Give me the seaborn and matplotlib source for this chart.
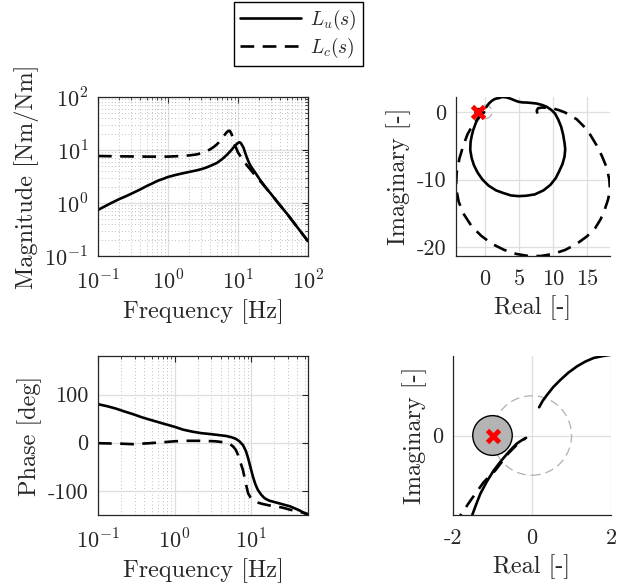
import seaborn as sns
import matplotlib.pyplot as plt
from matplotlib.patches import Circle
from matplotlib.lines import Line2D

# ---- Bode magnitude ----
mag_freq_u = [0.1, 0.12, 0.15, 0.2, 0.25, 0.3, 0.4, 0.5, 0.6, 0.7, 0.85, 1.0, 1.25, 1.5, 2.0, 2.5,
              3.0, 3.5, 4.0, 5.0, 6.0, 7.0, 8.0, 9.0, 10.0, 10.5, 11.0, 12.0, 13.0, 14.0, 15.0, 17.5,
              20.0, 25.0, 30.0, 40.0, 50.0, 65.0, 80.0, 100.0]
mag_u = [0.74, 0.84, 0.98, 1.18, 1.34, 1.5, 1.8, 2.1, 2.35, 2.6, 2.85, 3.1, 3.35, 3.55, 3.85, 4.1,
         4.35, 4.65, 5.0, 5.7, 6.8, 8.2, 9.9, 12.0, 13.6, 14.0, 13.5, 11.0, 8.0, 6.2, 5.1, 3.8,
         2.9, 1.95, 1.45, 0.9, 0.63, 0.4, 0.28, 0.19]

mag_freq_c = [0.1, 0.2, 0.5, 1.0, 1.5, 2.0, 2.5, 3.0, 3.5, 4.0, 4.5, 5.0, 5.5, 6.0, 6.4, 6.7, 7.0,
              7.3, 7.6, 7.8, 8.1, 8.4, 9.0, 10.0, 11.0, 12.0, 13.3, 15.0, 17.0, 20.0, 25.0, 30.0,
              40.0, 50.0, 65.0, 80.0, 100.0]
mag_c = [7.7, 7.6, 7.5, 7.5, 7.7, 7.9, 8.2, 8.7, 9.4, 10.3, 11.4, 12.8, 14.6, 17.0, 19.0, 20.6, 22.0,
         23.0, 23.0, 22.0, 20.0, 17.2, 12.5, 9.0, 7.4, 6.3, 5.2, 4.3, 3.5, 2.75, 1.93, 1.44,
         0.9, 0.63, 0.4, 0.28, 0.19]

# ---- Bode phase ----
ph_freq_u = [0.1, 0.13, 0.17, 0.22, 0.29, 0.37, 0.47, 0.7, 1.0, 1.3, 1.7, 2.2, 2.9, 3.7, 4.7, 5.5,
             6.3, 7.0, 7.8, 8.5, 9.1, 9.8, 10.5, 11.3, 12.2, 13.5, 14.9, 17.0, 21, 26, 32, 42, 55]
ph_u = [80, 76, 71, 65, 59, 53, 48, 40, 33, 27, 23, 20, 18, 16, 14, 11.5,
        8, 3, -5, -17, -32, -52, -70, -86, -98, -108, -115, -120, -124, -128, -132, -140, -150]

ph_freq_c = [0.1, 0.2, 0.29, 0.47, 0.7, 1.0, 1.5, 2.0, 2.7, 3.4, 4.1, 4.7, 5.3, 5.8, 6.3, 6.7, 7.2,
             7.8, 8.5, 9.1, 9.8, 10.5, 12.0, 14, 17, 21, 26, 32, 42, 55]
ph_c = [-1, -2, -3, -1, 1, 3, 4, 4, 3.5, 3, 1.5, 0, -3, -8, -15, -25, -40,
        -57, -85, -105, -114, -119, -124, -127, -130, -132, -135, -139, -143, -148]

# ---- Nyquist curves ----
nyq_re_u = [0.18, 0.27, 0.38, 0.54, 0.72, 0.92, 1.14, 1.35, 1.56, 1.8, 2.0, 2.45, 3.1, 3.7, 4.3,
            4.9, 5.5, 6.1, 6.8, 7.6, 8.4, 9.1, 9.8, 10.3, 10.8, 11.2, 11.5, 11.7, 11.8, 11.7, 11.4,
            10.9, 10.4, 9.6, 8.6, 7.3, 6.0, 4.9, 3.8, 2.7, 1.6, 0.5, -0.4, -1.1, -1.65, -2.0, -2.2,
            -2.15, -1.95, -1.75, -1.52, -1.42, -1.31, -1.15, -0.97, -0.8, -0.63, -0.5, -0.38, -0.26, -0.15]
nyq_im_u = [0.71, 0.87, 1.02, 1.22, 1.4, 1.58, 1.74, 1.86, 1.95, 2.0, 2.03, 2.2, 2.15, 1.97, 1.72,
            1.5, 1.4, 1.38, 1.32, 1.23, 1.02, 0.74, 0.25, -0.25, -1.2, -2.2, -3.4, -4.6, -5.5, -6.6, -7.7,
            -8.8, -9.8, -10.8, -11.6, -12.2, -12.4, -12.45, -12.35, -12.0, -11.6, -10.9, -10.0, -9.0, -7.9, -6.8, -5.6,
            -4.4, -3.4, -2.65, -2.02, -1.75, -1.47, -1.17, -0.88, -0.66, -0.46, -0.32, -0.2, -0.12, -0.06]

nyq_re_c = [7.7, 7.6, 7.8, 8.4, 9.1, 10.0, 10.9, 11.8, 12.5, 13.5, 14.5, 15.5, 16.4, 17.2, 17.9, 18.3,
            18.4, 18.1, 17.6, 17.0, 16.2, 15.0, 13.5, 11.8, 10.0, 8.2, 6.4, 4.6, 2.8, 1.0, -0.6, -2.0,
            -3.1, -3.9, -4.3, -4.2, -3.8, -3.2, -2.6, -2.2, -1.82, -1.56, -1.22, -0.93, -0.6, -0.35, -0.17]
nyq_im_c = [-0.25, 0.2, 0.55, 0.65, 0.6, 0.5, 0.25, -0.1, -0.5, -1.1, -2.1, -3.4, -4.9, -6.5, -8.2, -10.0,
            -11.6, -13.0, -14.5, -15.9, -17.2, -18.4, -19.5, -20.4, -21.0, -21.3, -21.3, -21.0, -20.4, -19.5, -18.3, -16.9,
            -15.2, -13.3, -11.2, -9.0, -6.9, -4.9, -3.3, -2.6, -2.02, -1.64, -1.17, -0.88, -0.45, -0.2, -0.07]

legend_labels = [r'$L_u(s)$', r'$L_c(s)$']

FIG_W, FIG_H = 617, 583
LW = 1.9
DASH = (5.2, 3.2)
GRID = '#dedede'
SPINE = '#262626'
TICK_FS = 16
LABEL_FS = 17.5


def px_box(x0, y0, x1, y1):
    '''axes rectangle from pixel corners (top-left origin)'''
    return [x0 / FIG_W, 1 - y1 / FIG_H, (x1 - x0) / FIG_W, (y1 - y0) / FIG_H]


def draw_line(ax, x, y, dashed=False):
    sns.lineplot(x=x, y=y, ax=ax, color='k', lw=LW, sort=False, estimator=None)
    line = ax.lines[-1]
    if dashed:
        line.set_dashes(DASH)
    return line


def box_style(ax, full_box):
    for side in ['top', 'right']:
        ax.spines[side].set_visible(full_box)
    for sp in ax.spines.values():
        sp.set_color(SPINE)
        sp.set_linewidth(0.9)
    ax.tick_params(which='both', direction='in', top=full_box, right=full_box,
                   colors=SPINE, labelcolor='#262626', labelsize=TICK_FS, pad=7)
    ax.tick_params(axis='x', which='both', pad=10)
    ax.tick_params(which='major', length=4)
    ax.tick_params(which='minor', length=2)
    ax.set_axisbelow(True)


def critical_point(ax):
    ax.add_patch(Circle((0, 0), 1, fill=False, ec='#b0b0b0', lw=0.9, ls=(0, (7, 4)), zorder=1))
    ax.add_patch(Circle((-1, 0), 0.5, fc='#b4b4b4', ec='k', lw=1.0, zorder=2))
    ax.plot([-1], [0], marker='x', color='red', ms=9, mew=3.5, ls='none', zorder=5)


sns.set_style('white')
plt.rcParams['font.family'] = ['cmr10', 'DejaVu Serif']
plt.rcParams['mathtext.fontset'] = 'cm'
plt.rcParams['axes.unicode_minus'] = False
plt.rcParams['font.size'] = 15

fig = plt.figure(figsize=(FIG_W / 100, FIG_H / 100), dpi=100)

# magnitude
ax_mag = fig.add_axes(px_box(98, 97, 308, 256))
draw_line(ax_mag, mag_freq_u, mag_u)
draw_line(ax_mag, mag_freq_c, mag_c, dashed=True)
ax_mag.set_xscale('log')
ax_mag.set_yscale('log')
ax_mag.set_xlim(0.1, 100)
ax_mag.set_ylim(0.1, 100)
ax_mag.set_xticks([0.1, 1, 10, 100])
ax_mag.set_xticklabels([r'$10^{-1}$', r'$10^{0}$', r'$10^{1}$', r'$10^{2}$'])
ax_mag.set_yticks([0.1, 1, 10, 100])
ax_mag.set_yticklabels([r'$10^{-1}$', r'$10^{0}$', r'$10^{1}$', r'$10^{2}$'])
ax_mag.grid(True, which='major', color=GRID, lw=0.9)
ax_mag.grid(True, which='minor', color='#a8a8a8', lw=0.6, ls=(0, (1, 3)))
box_style(ax_mag, True)
ax_mag.set_xlabel('Frequency [Hz]', fontsize=LABEL_FS)
ax_mag.set_ylabel('Magnitude [Nm/Nm]', fontsize=LABEL_FS)

# phase
ax_ph = fig.add_axes(px_box(98, 356, 308, 515))
draw_line(ax_ph, ph_freq_u, ph_u)
draw_line(ax_ph, ph_freq_c, ph_c, dashed=True)
ax_ph.set_xscale('log')
ax_ph.set_xlim(0.1, 55)
ax_ph.set_ylim(-150, 180)
ax_ph.set_xticks([0.1, 1, 10])
ax_ph.set_xticklabels([r'$10^{-1}$', r'$10^{0}$', r'$10^{1}$'])
ax_ph.set_yticks([-100, 0, 100])
ax_ph.set_yticklabels(['-100', '0', '100'])
ax_ph.grid(True, which='major', color=GRID, lw=0.9)
ax_ph.grid(True, which='minor', axis='x', color='#a8a8a8', lw=0.6, ls=(0, (1, 3)))
box_style(ax_ph, True)
ax_ph.set_xlabel('Frequency [Hz]', fontsize=LABEL_FS)
ax_ph.set_ylabel('Phase [deg]', fontsize=LABEL_FS)

# nyquist full
ax_nyq = fig.add_axes(px_box(456, 97, 610, 256))
draw_line(ax_nyq, nyq_re_u, nyq_im_u)
draw_line(ax_nyq, nyq_re_c, nyq_im_c, dashed=True)
critical_point(ax_nyq)
ax_nyq.set_xlim(-4.3, 18.4)
ax_nyq.set_ylim(-21.3, 2.2)
ax_nyq.set_xticks([0, 5, 10, 15])
ax_nyq.set_xticklabels(['0', '5', '10', '15'])
ax_nyq.set_yticks([-20, -10, 0])
ax_nyq.set_yticklabels(['-20', '-10', '0'])
ax_nyq.grid(True, color=GRID, lw=0.9)
box_style(ax_nyq, False)
ax_nyq.set_xlabel('Real [-]', fontsize=LABEL_FS)
ax_nyq.set_ylabel('Imaginary [-]', fontsize=LABEL_FS)

# nyquist zoom around -1
ax_zm = fig.add_axes(px_box(453, 356, 611, 515))
draw_line(ax_zm, nyq_re_u[:12], nyq_im_u[:12])
draw_line(ax_zm, nyq_re_u[47:], nyq_im_u[47:])
draw_line(ax_zm, nyq_re_c[37:], nyq_im_c[37:], dashed=True)
critical_point(ax_zm)
ax_zm.set_xlim(-2, 2)
ax_zm.set_ylim(-2, 2)
ax_zm.set_xticks([-2, 0, 2])
ax_zm.set_xticklabels(['-2', '0', '2'])
ax_zm.set_yticks([0])
ax_zm.set_yticklabels(['0'])
ax_zm.grid(True, color=GRID, lw=0.9)
box_style(ax_zm, False)
ax_zm.set_xlabel('Real [-]', fontsize=LABEL_FS)
ax_zm.set_ylabel('Imaginary [-]', fontsize=LABEL_FS)

handles = [Line2D([], [], color='k', lw=LW),
           Line2D([], [], color='k', lw=LW, dashes=DASH)]
fig.legend(handles, legend_labels, loc='upper center', bbox_to_anchor=(0.484, 0.997),
           fontsize=14, frameon=True, fancybox=False, edgecolor='k', framealpha=1,
           handlelength=3.1, handletextpad=0.5, borderpad=0.3, labelspacing=0.2,
           borderaxespad=0)

fig.savefig('out.png', dpi=100)
